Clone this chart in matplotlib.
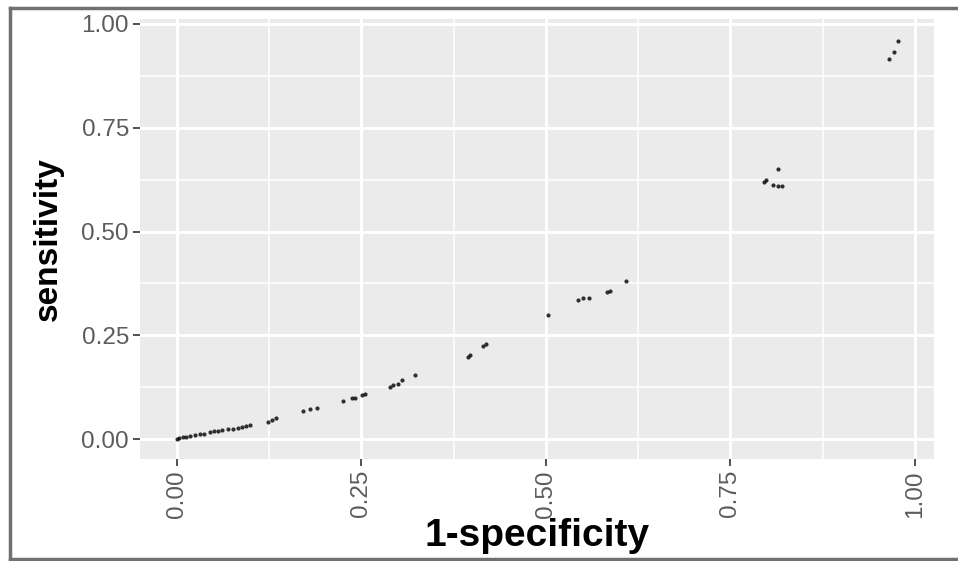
import numpy as np
import matplotlib
matplotlib.use('Agg')
from matplotlib import pyplot as plt
from matplotlib.lines import Line2D

# points (1-specificity, sensitivity)
fpr = [0.000, 0.003, 0.008, 0.012, 0.018, 0.024, 0.031, 0.037, 0.045, 0.050,
       0.056, 0.061, 0.069, 0.076, 0.083, 0.088, 0.093, 0.099, 0.123, 0.129,
       0.134, 0.171, 0.180, 0.190, 0.225, 0.237, 0.241, 0.251, 0.255, 0.289,
       0.293, 0.299, 0.305, 0.322, 0.394, 0.397, 0.415, 0.419, 0.503, 0.543,
       0.550, 0.558, 0.583, 0.587, 0.608, 0.795, 0.798, 0.808, 0.814, 0.820,
       0.814, 0.965, 0.972, 0.977]
sens = [0.000, 0.002, 0.005, 0.005, 0.007, 0.010, 0.012, 0.012, 0.017, 0.019,
        0.019, 0.022, 0.024, 0.024, 0.027, 0.029, 0.031, 0.034, 0.041, 0.046,
        0.051, 0.067, 0.072, 0.075, 0.092, 0.099, 0.099, 0.106, 0.108, 0.125,
        0.130, 0.133, 0.142, 0.154, 0.198, 0.202, 0.224, 0.229, 0.299, 0.335,
        0.340, 0.340, 0.354, 0.357, 0.381, 0.619, 0.624, 0.612, 0.610, 0.610,
        0.651, 0.916, 0.933, 0.959]

ticks = [0.0, 0.25, 0.5, 0.75, 1.0]
tick_labels = ['0.00', '0.25', '0.50', '0.75', '1.00']
minor_ticks = [0.125, 0.375, 0.625, 0.875]

plt.rcParams['font.family'] = ['Liberation Sans', 'DejaVu Sans']

W, H = 958, 561
fig = plt.figure(figsize=(W / 100, H / 100), dpi=100)
left, right, top, bottom = 140, 934, 19, 459
ax = fig.add_axes([left / W, 1 - bottom / H, (right - left) / W, (bottom - top) / H])

ax.set_facecolor('#EBEBEB')
for s in ax.spines.values():
    s.set_visible(False)

ax.set_xlim(-0.050, 1.026)
ax.set_ylim(-0.048, 1.012)

ax.set_xticks(ticks)
ax.set_xticklabels(tick_labels, rotation=90)
ax.set_yticks(ticks)
ax.set_yticklabels(tick_labels)
ax.set_xticks(minor_ticks, minor=True)
ax.set_yticks(minor_ticks, minor=True)

ax.grid(True, which='major', color='white', linewidth=2.2)
ax.grid(True, which='minor', color='white', linewidth=1.1)
ax.set_axisbelow(True)

ax.tick_params(which='major', length=5, width=1.2, color='#333333',
               labelsize=17.5, labelcolor='#5c5c5c', pad=3)
ax.tick_params(which='minor', length=0)

ax.scatter(fpr, sens, s=9, color='black', alpha=0.8, linewidths=0, zorder=3)

ax.set_xlabel('1-specificity', fontsize=28, fontweight='bold', va='center')
ax.set_ylabel('sensitivity', fontsize=24, fontweight='bold', va='center')
ax.xaxis.set_label_coords(0.5, (bottom - 536) / (bottom - top))
ax.yaxis.set_label_coords((48 - left) / (right - left), 0.5)

# outer frame (left, top, bottom edges)
frame_col = '#707070'
fig.add_artist(Line2D([10 / W, 10 / W], [1 - 8 / H, 1 - 559 / H], color=frame_col, lw=2.5))
fig.add_artist(Line2D([10 / W, 1.0], [1 - 8 / H, 1 - 8 / H], color=frame_col, lw=2.5))
fig.add_artist(Line2D([10 / W, 1.0], [1 - 559 / H, 1 - 559 / H], color=frame_col, lw=2.5))

fig.savefig('out.png', dpi=100)
